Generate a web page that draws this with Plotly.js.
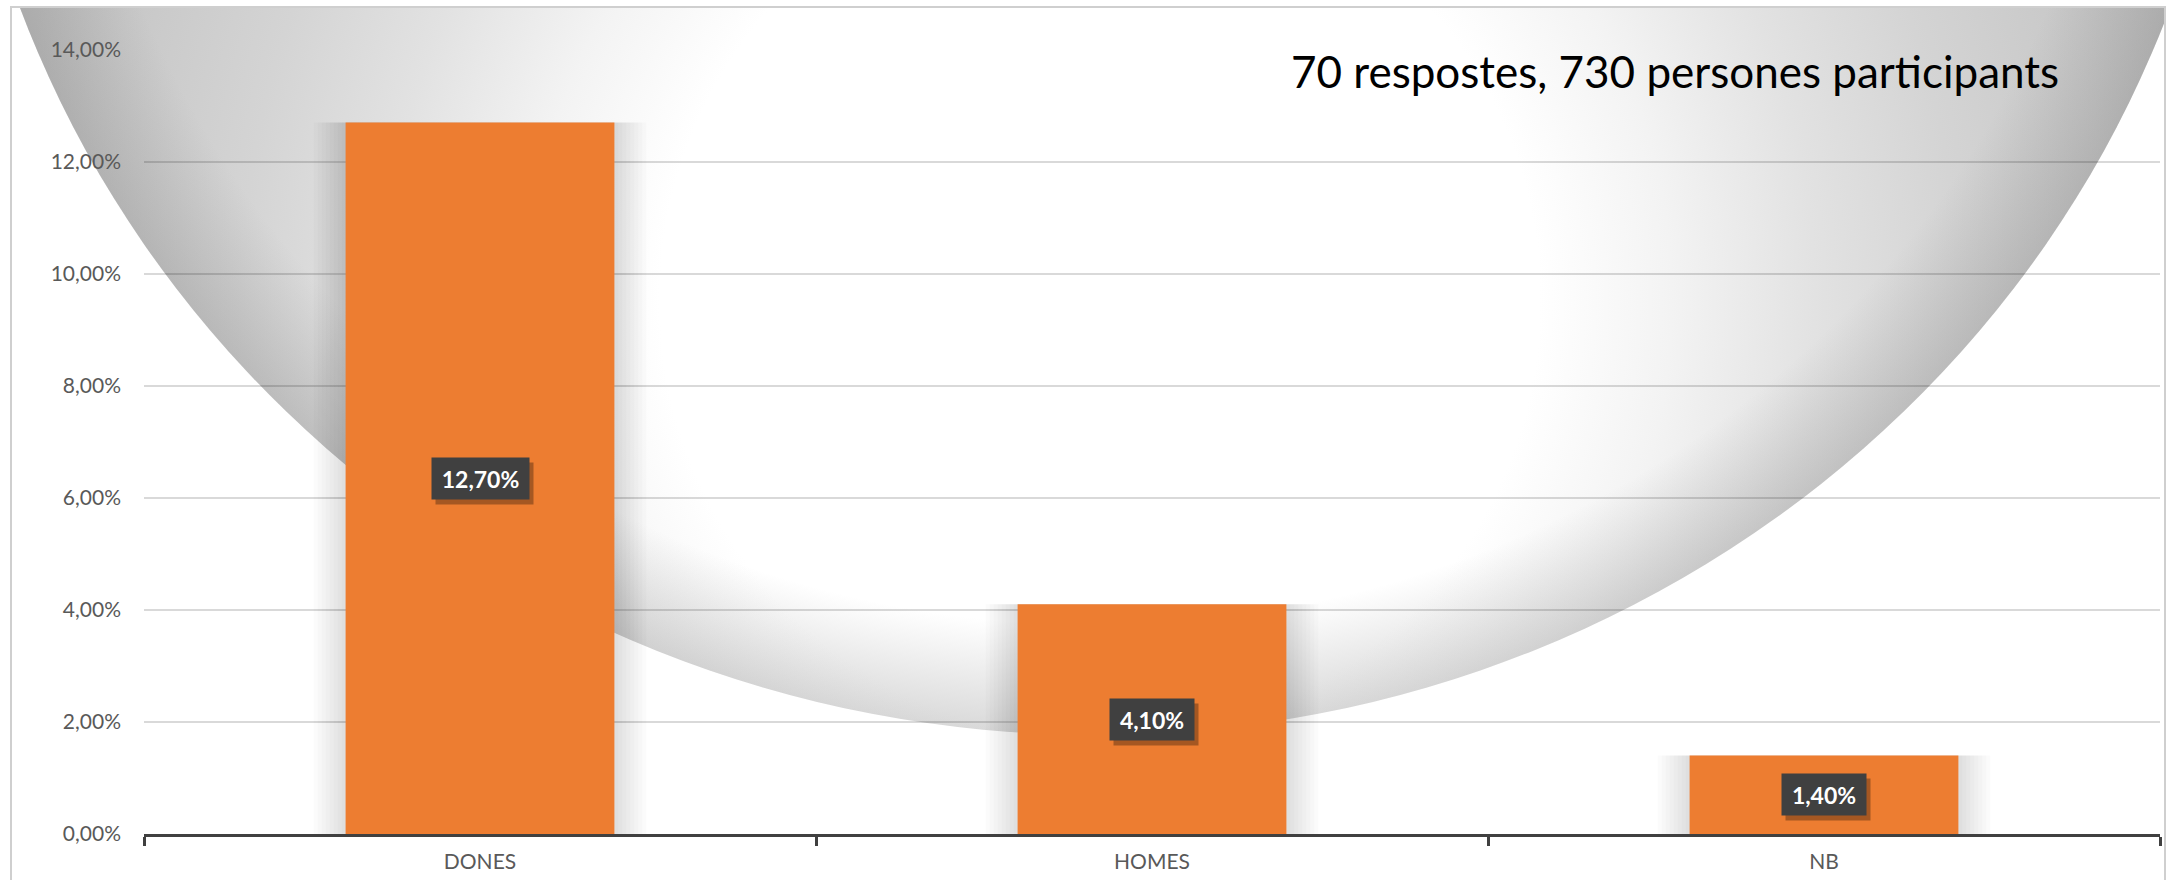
<!DOCTYPE html>
<html>
<head>
<meta charset="utf-8">
<script src="https://cdn.plot.ly/plotly-3.0.1.min.js"></script>
<style>
  html, body { margin:0; padding:0; background:#ffffff; }
  #wrap { position:relative; width:2175px; height:880px; overflow:hidden; }
  #bg { position:absolute; left:0; top:0; z-index:0; }
  #chart { position:absolute; left:0; top:0; width:2175px; height:880px; z-index:1; }
</style>
</head>
<body>
<div id="wrap">
<svg id="bg" width="2175" height="880" xmlns="http://www.w3.org/2000/svg">
  <defs>
    <clipPath id="frame"><rect x="11" y="7" width="2154" height="880"/></clipPath>
    <radialGradient id="g1" gradientUnits="userSpaceOnUse" cx="1100" cy="300" r="1100">
      <stop offset="0" stop-color="#ffffff"/>
      <stop offset="0.40" stop-color="#ffffff"/>
      <stop offset="0.52" stop-color="#f3f3f3"/>
      <stop offset="0.65" stop-color="#e2e2e2"/>
      <stop offset="0.78" stop-color="#d4d4d4"/>
      <stop offset="0.92" stop-color="#c8c8c8"/>
      <stop offset="1" stop-color="#c0c0c0"/>
    </radialGradient>
    <radialGradient id="g2" cx="50%" cy="50%" r="50%">
      <stop offset="0.9" stop-color="#787878" stop-opacity="0"/>
      <stop offset="1" stop-color="#787878" stop-opacity="0.28"/>
    </radialGradient>
  </defs>
  <g clip-path="url(#frame)">
    <ellipse cx="1095" cy="-370" rx="1144" ry="1105" fill="url(#g1)"/>
    <ellipse cx="1095" cy="-370" rx="1144" ry="1105" fill="url(#g2)"/>
  </g>
  <rect x="11" y="7" width="2154" height="900" fill="none" stroke="#cfcfcf" stroke-width="2"/>
</svg>
<div id="chart"></div>
</div>
<script>
// ---- data ----
const categories = ['DONES', 'HOMES', 'NB'];
const shares = [0.127, 0.041, 0.014];
const noteText = '70 respostes, 730 persones participants';
const yTickStep = 0.02;
const yMax = 0.1401;

function pct(v) { return (v * 100).toFixed(2).replace('.', ',') + '%'; }

const barColor = '#ED7D31';
const FONT = 'Lato, "Open Sans", sans-serif';

// soft halo (shadow) behind bars, drawn from the same data
const haloWidths = [];
for (let k = 8; k >= 1; k--) haloWidths.push(0.4 + 2 * k * 4 / 672);
const halo = haloWidths.map(w => ({
  type: 'bar', x: categories, y: shares, width: w,
  marker: { color: 'rgba(0,0,0,0.014)', line: { width: 0 } },
  hoverinfo: 'skip', showlegend: false
}));

const bars = {
  type: 'bar', x: categories, y: shares, width: 0.4,
  marker: { color: barColor, line: { width: 0 } },
  hoverinfo: 'x+y', showlegend: false
};

const annotations = [];
categories.forEach((c, i) => {
  const t = pct(shares[i]);
  const w = 13 * t.length + 9;
  annotations.push({
    x: c, y: shares[i] / 2, xref: 'x', yref: 'y', showarrow: false,
    text: '&nbsp;', font: { family: FONT, size: 23, color: 'rgba(0,0,0,0)' },
    bgcolor: 'rgba(0,0,0,0.30)', borderpad: 5, width: w, height: 31, xshift: 4, yshift: -5
  });
  annotations.push({
    x: c, y: shares[i] / 2, xref: 'x', yref: 'y', showarrow: false,
    text: '<b>' + t + '</b>', font: { family: FONT, size: 23, color: '#ffffff' },
    bgcolor: '#404040', borderpad: 5, width: w, height: 31
  });
});
annotations.push({
  xref: 'paper', yref: 'paper', x: 0.568, y: 0.972,
  xanchor: 'left', yanchor: 'middle', showarrow: false,
  text: noteText, font: { family: FONT, size: 44, color: '#000000' }
});

const layout = {
  width: 2175, height: 880,
  margin: { l: 144, r: 15, t: 49, b: 46 },
  paper_bgcolor: 'rgba(0,0,0,0)', plot_bgcolor: 'rgba(0,0,0,0)',
  separators: ',.',
  barmode: 'overlay',
  showlegend: false,
  xaxis: {
    type: 'category', categoryorder: 'array', categoryarray: categories,
    showgrid: false, zeroline: false,
    showline: true, linecolor: '#404040', linewidth: 3,
    ticks: 'outside', tickson: 'boundaries', ticklen: 9, tickwidth: 3, tickcolor: '#404040',
    tickfont: { family: FONT, size: 21, color: '#595959' },
    ticklabelstandoff: 7
  },
  yaxis: {
    range: [0, yMax], dtick: yTickStep, tick0: 0, tickformat: '.2%',
    showgrid: true, gridcolor: 'rgba(0,0,0,0.15)', gridwidth: 2,
    zeroline: false, showline: false, ticks: '',
    tickfont: { family: FONT, size: 21, color: '#595959' },
    ticklabelstandoff: 22
  },
  annotations: annotations
};

Plotly.newPlot('chart', [...halo, bars], layout, { displayModeBar: false, staticPlot: true });
</script>
</body>
</html>
